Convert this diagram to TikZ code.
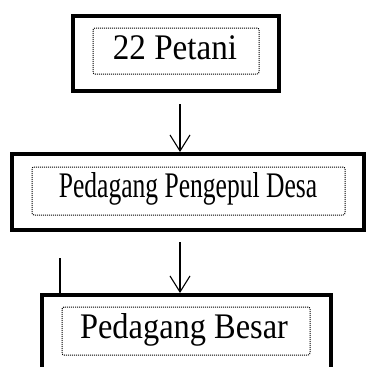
\documentclass[tikz,border=0pt]{standalone}
\usepackage{fontspec}
\setmainfont{Liberation Serif}
\usetikzlibrary{arrows.meta}
\tikzset{
  outerbox/.style={draw=black, line width=4pt, inner sep=0pt, minimum width=#1},
  dotbox/.style={draw=black, dash pattern=on 1pt off 1pt, line width=1pt, rounded corners=2pt, inner sep=0pt},
  lbl/.style={anchor=base, inner sep=0pt, font=\fontsize{36}{40}\selectfont},
  arr/.style={line width=1.1pt, -{Straight Barb[length=16pt,width=20pt,line width=1.1pt]}},
  tick/.style={line width=2pt}
}
\begin{document}
\begin{tikzpicture}[x=1pt,y=-1pt]
\useasboundingbox (0,0) rectangle (366,367);
\clip (0,0) rectangle (366,367);
% box 1
\node[outerbox=206pt, minimum height=75pt] (b1) at (176,53.5) {};
\node[dotbox, minimum width=166pt, minimum height=46pt] (d1) at (176,51) {};
\node[lbl] (t1) at (175,59) {\scalebox{0.92}[1]{22 Petani}};
% box 2
\node[outerbox=352pt, minimum height=76pt] (b2) at (188,192) {};
\node[dotbox, minimum width=313pt, minimum height=48pt] (d2) at (188.5,191) {};
\node[lbl] (t2) at (188,197) {\scalebox{0.71}[1]{Pedagang Pengepul Desa}};
% box 3
\node[outerbox=289pt, minimum height=95pt] (b3) at (186.5,342.5) {};
\node[dotbox, minimum width=248pt, minimum height=48pt] (d3) at (186,331) {};
\node[lbl] (t3) at (184,338) {\scalebox{0.9}[1]{Pedagang Besar}};
% connectors
\coordinate (s1) at (180,104);
\coordinate (s2) at (180,242);
\draw[arr] (s1) -- (s1 |- b2.north);
\draw[arr] (s2) -- (s2 |- b3.north);
% small tick
\coordinate (k1) at (60,258);
\coordinate (k2) at (60,296);
\draw[tick] (k1) -- (k2);
\end{tikzpicture}
\end{document}
